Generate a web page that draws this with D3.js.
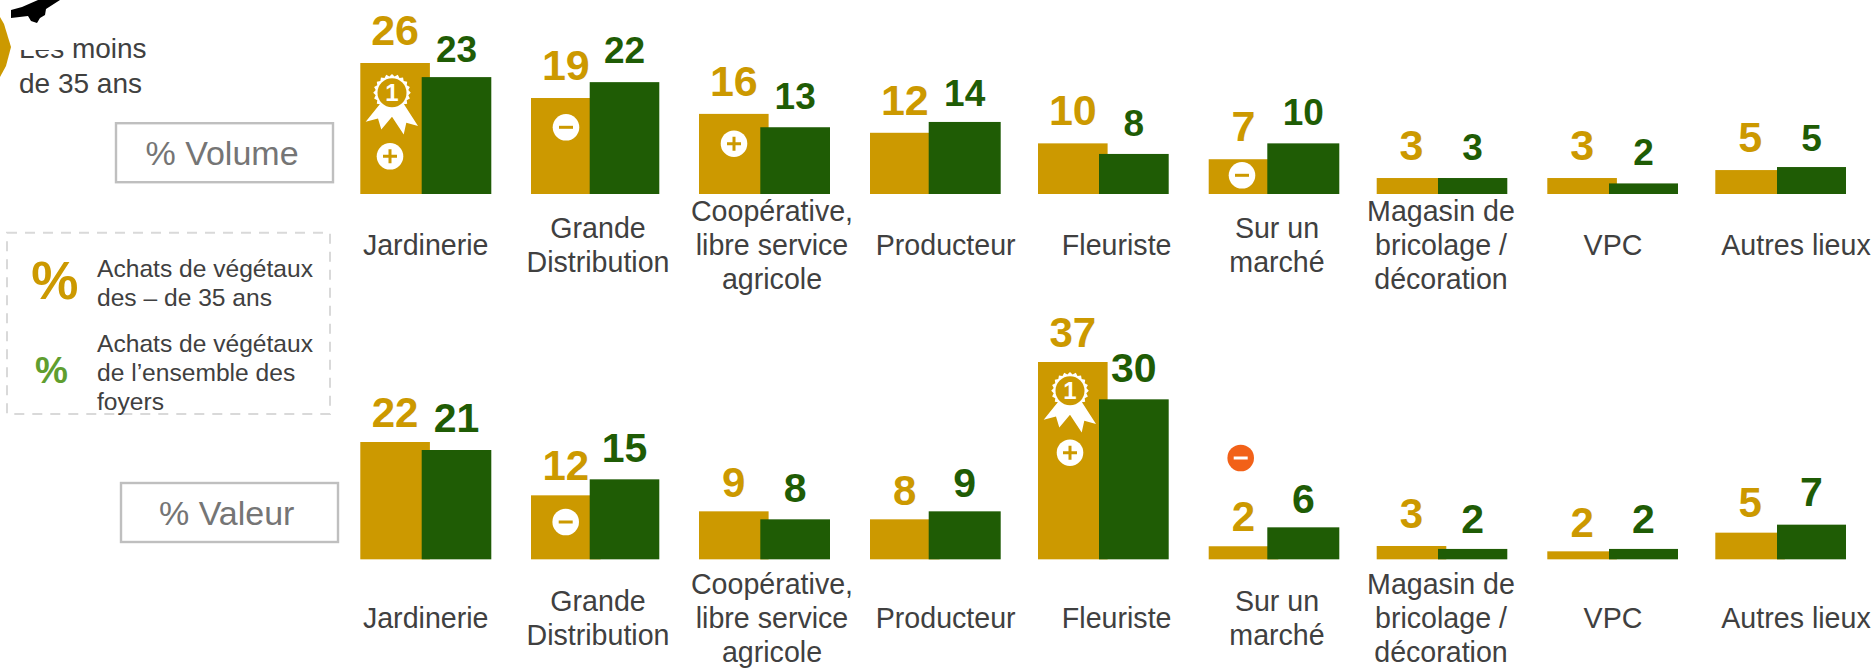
<!DOCTYPE html>
<html lang="fr">
<head>
<meta charset="utf-8">
<title>Les moins de 35 ans</title>
<script src="https://cdn.jsdelivr.net/npm/d3@7"></script>
<style>
html,body{margin:0;padding:0;background:#fff;}
svg{display:block;}
text{font-family:"Liberation Sans",Arial,sans-serif;}
</style>
</head>
<body>
<svg id="chart" width="1876" height="668"></svg>
<script>
// ---- Data ----
const categories = ["Jardinerie","Grande Distribution","Coopérative, libre service agricole","Producteur","Fleuriste","Sur un marché","Magasin de bricolage / décoration","VPC","Autres lieux"];
const categoryLines = [["Jardinerie"],["Grande","Distribution"],["Coopérative,","libre service","agricole"],["Producteur"],["Fleuriste"],["Sur un","marché"],["Magasin de","bricolage /","décoration"],["VPC"],["Autres lieux"]];
const volumeYoung = [26,19.05,15.9,12.15,10.05,6.9,3.17,3.17,4.75];
const volumeAll   = [23.2,22.2,13.25,14.3,7.95,10.05,3.17,2.1,5.35];
const valueYoung  = [22,12,9,7.5,37,2.45,2.5,1.5,5];
const valueAll    = [20.5,15,7.5,9,30,6,1.95,1.95,6.5];
const legendYoung = ["Achats de végétaux","des – de 35 ans"];
const legendAll   = ["Achats de végétaux","de l’ensemble des","foyers"];

// ---- Layout (pixel ranges for the scales and the hand placed annotations) ----
const GOLD="#CC9900", GREEN="#1F5C05", TEXT="#404040";
const xGold  = d3.scaleOrdinal(categories,[360.3,531,699,870,1038,1208.7,1376.7,1547.3,1715.3]);
const xGreen = d3.scaleOrdinal(categories,[421.7,589.7,760.3,928.7,1099,1267.3,1438,1609,1777]);
const xGreenEnd = d3.scaleOrdinal(categories,[491.3,659.3,830,1000.7,1168.7,1339.3,1507.3,1678,1846]);
const xLabel = d3.scaleOrdinal(categories,[425.7,598,772,945.7,1116.7,1277,1441,1613,1796]);
const goldWidth = 69.6;
const yVolume = d3.scaleLinear().domain([0,26]).range([194,63]);
const yValue  = d3.scaleLinear().domain([0,37]).range([559.33,362]);
const fmt = d3.format(".0f");
const liftGoldVol  = [18,18,18,18,18,18,18,18,18];
const liftGreenVol = [15.3,18.7,18,16,18,18,18,18.3,15.6];
const liftGoldVal  = [15.3,15.3,14.6,14.3,15.3,15.3,17.7,14.6,16];
const liftGreenVal = [18.3,17.6,17.6,14.6,17.3,14.3,15.7,15.7,18.3];

const svg = d3.select("#chart");

function panel(cls, gold, green, y, liftGold, liftGreen, goldSize, greenSize, labelMid){
  const g = svg.append("g").attr("class",cls);
  const rows = categories.map((c,i)=>({c,i,gold:gold[i],green:green[i]}));
  g.selectAll("rect.gold").data(rows).join("rect").attr("class","gold")
    .attr("x",d=>xGold(d.c)).attr("width",goldWidth)
    .attr("y",d=>y(d.gold)).attr("height",d=>y(0)-y(d.gold)).attr("fill",GOLD);
  g.selectAll("rect.green").data(rows).join("rect").attr("class","green")
    .attr("x",d=>xGreen(d.c)).attr("width",d=>xGreenEnd(d.c)-xGreen(d.c))
    .attr("y",d=>y(d.green)).attr("height",d=>y(0)-y(d.green)).attr("fill",GREEN);
  g.selectAll("text.vgold").data(rows).join("text").attr("class","vgold")
    .attr("x",d=>xGold(d.c)+goldWidth/2).attr("y",d=>y(d.gold)-liftGold[d.i])
    .attr("text-anchor","middle").attr("font-weight","bold").attr("font-size",goldSize)
    .attr("fill",GOLD).text(d=>fmt(d.gold));
  g.selectAll("text.vgreen").data(rows).join("text").attr("class","vgreen")
    .attr("x",d=>(xGreen(d.c)+xGreenEnd(d.c))/2).attr("y",d=>y(d.green)-liftGreen[d.i])
    .attr("text-anchor","middle").attr("font-weight","bold").attr("font-size",greenSize)
    .attr("fill",GREEN).text(d=>fmt(d.green));
  const lab = g.selectAll("text.cat").data(rows).join("text").attr("class","cat")
    .attr("text-anchor","middle").attr("font-size",28.6).attr("fill",TEXT);
  lab.each(function(d){
    const lines = categoryLines[d.i];
    d3.select(this).selectAll("tspan").data(lines).join("tspan")
      .attr("x",xLabel(d.c))
      .attr("y",(l,k)=>labelMid+(k-(lines.length-1)/2)*34)
      .text(l=>l);
  });
}
panel("volume",volumeYoung,volumeAll,yVolume,liftGoldVol,liftGreenVol,43,37,255);
panel("valeur",valueYoung,valueAll,yValue,liftGoldVal,liftGreenVal,42,41,628);

// Boxed panel titles
function titleBox(x,y,w,h,label,cx,base){
  svg.append("rect").attr("x",x).attr("y",y).attr("width",w).attr("height",h)
    .attr("fill","none").attr("stroke","#BFBFBF").attr("stroke-width",2.4);
  svg.append("text").attr("x",cx).attr("y",base).attr("text-anchor","middle")
    .attr("font-size",34).attr("fill","#757575").text(label);
}
titleBox(116,123.2,217,59,"% Volume",222,165);
titleBox(121,483,217,59,"% Valeur",226.7,525);

// Legend
svg.append("rect").attr("x",7).attr("y",232.7).attr("width",323).attr("height",181.3)
  .attr("fill","none").attr("stroke","#D9D9D9").attr("stroke-width",2).attr("stroke-dasharray","10 8");
svg.append("text").attr("x",54.7).attr("y",299).attr("text-anchor","middle")
  .attr("font-weight","bold").attr("font-size",53).attr("fill",GOLD).text("%");
svg.append("text").attr("x",51.5).attr("y",382.5).attr("text-anchor","middle")
  .attr("font-weight","bold").attr("font-size",37).attr("fill","#5F9E2F").text("%");
function legendText(lines,base){
  svg.append("g").selectAll("text").data(lines).join("text")
    .attr("x",97).attr("y",(d,i)=>base+i*29.2).attr("font-size",24.6).attr("fill",TEXT).text(d=>d);
}
legendText(legendYoung,276.7);
legendText(legendAll,351.7);

// Heading fragment
svg.append("text").attr("x",19).attr("y",58).attr("font-size",28).attr("fill",TEXT).text("Les moins");
svg.append("text").attr("x",19).attr("y",92.7).attr("font-size",28).attr("fill",TEXT).text("de 35 ans");
svg.append("path").attr("fill","#fff").attr("d","M0,0H110V20L94,34L86,34L72,43L66,50H0Z");
svg.append("path").attr("fill",GOLD).attr("d","M0,17L4,24L11,47L6,66L0,77Z");
svg.append("path").attr("fill","#000").attr("d","M11,10L22,7L38,0H60L46,9L45,15L40,18L37,23L31,21L28,16L11,18Z");

// Rosettes and +/- badges
function rosette(cx,cy){
  const g = svg.append("g").attr("transform",`translate(${cx},${cy})`);
  g.append("path").attr("fill","#fff").attr("d","M-11,10L-26.3,29L-14,25.7L-10.7,36.7L0,24L11.7,41.7L14.3,30L26,33.3L11,10Z");
  const burst = d3.range(40).map(i=>{const a=i/40*2*Math.PI, r=i%2?16.5:18.8; return [Math.cos(a)*r,Math.sin(a)*r];});
  g.append("path").attr("fill","#fff").attr("d",d3.line()(burst)+"Z");
  g.append("circle").attr("r",14.5).attr("fill",GOLD);
  g.append("text").attr("text-anchor","middle").attr("y",8).attr("font-size",24).attr("font-weight","bold").attr("fill","#fff").text("1");
}
rosette(392,92.7);
rosette(1070,390.7);

const badges = [
  {x:390,y:156.3,sign:"+",fill:"#fff",ink:GOLD},
  {x:566,y:127.3,sign:"-",fill:"#fff",ink:GOLD},
  {x:734,y:143.7,sign:"+",fill:"#fff",ink:GOLD},
  {x:1242,y:175.3,sign:"-",fill:"#fff",ink:GOLD},
  {x:565.7,y:522,sign:"-",fill:"#fff",ink:GOLD},
  {x:1070,y:452.7,sign:"+",fill:"#fff",ink:GOLD},
  {x:1240.7,y:458,sign:"-",fill:"#F26118",ink:"#fff"}
];
const bg = svg.append("g").selectAll("g").data(badges).join("g")
  .attr("transform",d=>`translate(${d.x},${d.y})`);
bg.append("circle").attr("r",13.3).attr("fill",d=>d.fill);
bg.append("path").attr("fill","none").attr("stroke",d=>d.ink).attr("stroke-width",3)
  .attr("d",d=>d.sign==="+"?"M-7,0H7M0,-7V7":"M-7,0H7");
</script>
</body>
</html>
